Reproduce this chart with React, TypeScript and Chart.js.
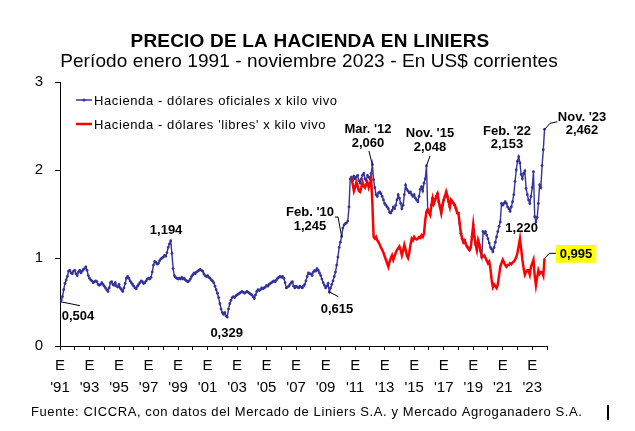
import React, { useEffect, useRef } from 'react';
import { Chart, registerables } from 'chart.js';

Chart.register(...registerables);

const FONT = '"Liberation Sans", Arial, Helvetica, sans-serif';

const titleText = 'PRECIO DE LA HACIENDA EN LINIERS';
const subtitleText = 'Período enero 1991 - noviembre 2023 - En US$ corrientes';
const footerText = 'Fuente: CICCRA, con datos del Mercado de Liniers S.A. y Mercado Agroganadero S.A.';
const seriesNames = ['Hacienda - dólares oficiales x kilo vivo', "Hacienda - dólares 'libres' x kilo vivo"];

// x axis: months since Jan 1991, axis spans 33 years (396 months)
const axisMonths = 396;
const tickMonth = 'E';
const tickYears = ["'91", "'93", "'95", "'97", "'99", "'01", "'03", "'05", "'07", "'09", "'11", "'13", "'15", "'17", "'19", "'21", "'23"];
const yTicks = [0, 1, 2, 3];

// Monthly price, official dollars per kg live weight, Jan 1991 - Nov 2023
const oficial = [
  0.504, 0.52, 0.56, 0.64, 0.71, 0.75, 0.79, 0.85, 0.86, 0.83, 0.82, 0.85, // 1991
  0.86, 0.82, 0.80, 0.84, 0.86, 0.83, 0.85, 0.87, 0.88, 0.90, 0.86, 0.80, // 1992
  0.77, 0.75, 0.74, 0.72, 0.73, 0.74, 0.73, 0.70, 0.69, 0.70, 0.72, 0.70, // 1993
  0.68, 0.66, 0.64, 0.62, 0.66, 0.72, 0.73, 0.70, 0.69, 0.72, 0.68, 0.67, // 1994
  0.70, 0.66, 0.64, 0.62, 0.66, 0.71, 0.77, 0.79, 0.77, 0.74, 0.72, 0.70, // 1995
  0.68, 0.66, 0.65, 0.68, 0.70, 0.72, 0.74, 0.73, 0.71, 0.72, 0.74, 0.76, // 1996
  0.77, 0.76, 0.78, 0.84, 0.92, 0.96, 0.95, 0.93, 0.94, 0.97, 0.99, 1.00, // 1997
  1.01, 1.03, 1.02, 1.06, 1.12, 1.16, 1.194, 1.05, 0.88, 0.80, 0.78, 0.77, // 1998
  0.76, 0.77, 0.76, 0.78, 0.76, 0.77, 0.75, 0.74, 0.73, 0.74, 0.76, 0.79, // 1999
  0.81, 0.83, 0.82, 0.84, 0.85, 0.86, 0.87, 0.86, 0.85, 0.82, 0.80, 0.79, // 2000
  0.80, 0.78, 0.77, 0.75, 0.74, 0.72, 0.68, 0.64, 0.60, 0.55, 0.48, 0.42, // 2001
  0.38, 0.36, 0.38, 0.34, 0.329, 0.42, 0.48, 0.52, 0.55, 0.56, 0.55, 0.57, // 2002
  0.58, 0.59, 0.60, 0.61, 0.62, 0.61, 0.60, 0.61, 0.62, 0.61, 0.60, 0.59, // 2003
  0.58, 0.56, 0.54, 0.58, 0.62, 0.64, 0.63, 0.64, 0.66, 0.65, 0.66, 0.67, // 2004
  0.69, 0.68, 0.70, 0.71, 0.72, 0.73, 0.74, 0.73, 0.75, 0.77, 0.78, 0.79, // 2005
  0.78, 0.79, 0.77, 0.72, 0.66, 0.67, 0.68, 0.70, 0.72, 0.73, 0.68, 0.66, // 2006
  0.68, 0.67, 0.66, 0.68, 0.67, 0.66, 0.68, 0.70, 0.74, 0.79, 0.83, 0.82, // 2007
  0.82, 0.80, 0.84, 0.86, 0.85, 0.88, 0.86, 0.83, 0.80, 0.76, 0.72, 0.69, // 2008
  0.66, 0.68, 0.71, 0.615, 0.66, 0.70, 0.74, 0.79, 0.84, 0.92, 1.01, 1.12, // 2009
  1.18, 1.245, 1.34, 1.375, 1.39, 1.40, 1.42, 1.58, 1.90, 1.92, 1.88, 1.93, // 2010
  1.90, 1.92, 1.94, 1.88, 1.85, 1.90, 1.94, 1.96, 1.90, 1.88, 1.94, 1.92, // 2011
  1.90, 1.96, 2.06, 1.89, 1.80, 1.72, 1.70, 1.74, 1.75, 1.73, 1.70, 1.66, // 2012
  1.62, 1.60, 1.58, 1.56, 1.52, 1.51, 1.54, 1.58, 1.56, 1.60, 1.66, 1.72, // 2013
  1.68, 1.62, 1.56, 1.60, 1.72, 1.83, 1.78, 1.76, 1.74, 1.75, 1.72, 1.70, // 2014
  1.72, 1.68, 1.66, 1.64, 1.70, 1.78, 1.81, 1.76, 1.85, 1.90, 2.048, 1.55, // 2015
  1.52, 1.49, 1.60, 1.68, 1.62, 1.66, 1.70, 1.73, 1.64, 1.58, 1.51, 1.60, // 2016
  1.66, 1.70, 1.75, 1.70, 1.64, 1.58, 1.66, 1.64, 1.62, 1.60, 1.56, 1.51, // 2017
  1.51, 1.39, 1.28, 1.22, 1.18, 1.20, 1.16, 1.13, 1.11, 1.09, 1.12, 1.24, // 2018
  1.375, 1.24, 1.15, 1.09, 1.20, 1.15, 1.08, 1.01, 1.30, 1.28, 1.30, 1.26, // 2019
  1.22, 1.17, 1.12, 1.10, 1.07, 1.12, 1.18, 1.24, 1.30, 1.36, 1.41, 1.62, // 2020
  1.60, 1.62, 1.64, 1.62, 1.58, 1.56, 1.53, 1.58, 1.64, 1.72, 1.87, 2.00, // 2021
  2.10, 2.153, 2.08, 1.95, 1.90, 1.96, 1.99, 1.79, 1.72, 1.66, 1.62, 1.70, // 2022
  1.80, 1.98, 1.47, 1.41, 1.46, 1.62, 1.83, 1.80, 2.05, 2.23, 2.462, // 2023
];

// Monthly price, 'free' dollars per kg live weight, Oct 2010 - Nov 2023
const libresStart = 237; // month index of Oct 2010
const libres = [
  1.90, 1.84, 1.76, // 2010
  1.80, 1.86, 1.82, 1.76, 1.75, 1.80, 1.86, 1.82, 1.80, 1.84, 1.86, 1.80, // 2011
  1.84, 1.90, 1.62, 1.24, 1.22, 1.24, 1.20, 1.18, 1.15, 1.12, 1.09, 1.06, // 2012
  1.02, 0.98, 0.94, 0.90, 0.96, 1.00, 1.03, 0.98, 1.02, 1.06, 1.09, 1.11, // 2013
  1.13, 1.09, 1.03, 1.08, 1.15, 1.10, 1.03, 1.00, 1.06, 1.15, 1.22, 1.20, // 2014
  1.24, 1.22, 1.21, 1.22, 1.24, 1.23, 1.26, 1.24, 1.28, 1.43, 1.53, 1.55, // 2015
  1.52, 1.49, 1.60, 1.68, 1.62, 1.66, 1.70, 1.73, 1.64, 1.58, 1.51, 1.60, // 2016
  1.66, 1.70, 1.75, 1.70, 1.64, 1.58, 1.66, 1.64, 1.62, 1.60, 1.56, 1.51, // 2017
  1.51, 1.39, 1.28, 1.22, 1.18, 1.20, 1.16, 1.13, 1.11, 1.09, 1.12, 1.24, // 2018
  1.375, 1.24, 1.15, 1.09, 1.20, 1.15, 1.08, 1.01, 1.02, 1.03, 1.00, 0.97, // 2019
  0.94, 0.96, 0.88, 0.75, 0.67, 0.70, 0.68, 0.66, 0.70, 0.80, 0.90, 0.94, // 2020
  0.98, 0.95, 0.92, 0.90, 0.92, 0.92, 0.94, 0.93, 0.95, 0.96, 0.98, 1.01, // 2021
  1.06, 1.14, 1.22, 1.10, 0.98, 0.88, 0.81, 0.84, 0.86, 0.86, 0.81, 0.90, // 2022
  0.94, 0.98, 0.80, 0.69, 0.78, 0.86, 0.82, 0.84, 0.84, 0.80, 0.995, // 2023
];

// Callouts: text lines, anchored series point (month index), offsets in px
type Note = {
  lines: string[];
  series: 0 | 1;
  month: number;
  dx: number;
  dy: number[];
  leader?: [number, number][];
  box?: boolean;
};
const notes: Note[] = [
  { lines: ['0,504'], series: 0, month: 0, dx: 18, dy: [18.4], leader: [[20, 4]] },
  { lines: ['1,194'], series: 0, month: 90, dx: -4.6, dy: [-6.5] },
  { lines: ['0,329'], series: 0, month: 136, dx: -0.6, dy: [19.7] },
  { lines: ["Feb. '10", '1,245'], series: 0, month: 229, dx: -31.6, dy: [-20.9, -6.4], leader: [[-3.6, -19.4], [-6.6, -19.4]] },
  { lines: ['0,615'], series: 0, month: 219, dx: 7.7, dy: [21.1], leader: [[9, 4.8]] },
  { lines: ["Mar. '12", '2,060'], series: 0, month: 254, dx: -4.4, dy: [-32, -18], leader: [[-3.4, -13.7]] },
  { lines: ["Nov. '15", '2,048'], series: 0, month: 298, dx: 3.5, dy: [-28.5, -15.1], leader: [[3.5, -9.8]] },
  { lines: ["Feb. '22", '2,153'], series: 0, month: 373, dx: -11.7, dy: [-21.5, -8.2] },
  { lines: ['1,220'], series: 0, month: 387, dx: -14.3, dy: [9.8] },
  { lines: ["Nov. '23", '2,462'], series: 0, month: 394, dx: 37.5, dy: [-8.6, 4.7], leader: [[5.5, -6], [12.8, -7.6]] },
  { lines: ['0,995'], series: 1, month: 394, dx: 31.5, dy: [-0.1], leader: [[4.8, -5.1], [12.8, -5.1]], box: true },
];

const BLUE = '#333399';
const RED = '#ff0000';

function valueOf(series: 0 | 1, month: number): number {
  return series === 0 ? oficial[month] : libres[month - libresStart];
}

const textPlugin = {
  id: 'textPlugin',
  afterDraw(chart: any) {
    const ctx: CanvasRenderingContext2D = chart.ctx;
    const xs = chart.scales.x;
    const ys = chart.scales.y;
    ctx.save();
    ctx.fillStyle = '#000';
    ctx.textBaseline = 'alphabetic';

    // Titles
    ctx.textAlign = 'center';
    (ctx as any).letterSpacing = '0.2px';
    ctx.font = `bold 19px ${FONT}`;
    ctx.fillText(titleText, 310, 46.7);
    (ctx as any).letterSpacing = '0.1px';
    ctx.font = `19px ${FONT}`;
    ctx.fillText(subtitleText, 309, 66.5);

    // Legend
    (ctx as any).letterSpacing = '0.6px';
    ctx.font = `13px ${FONT}`;
    ctx.textAlign = 'left';
    const legendRows = [
      { y: 100, color: BLUE, width: 1.5, marker: true },
      { y: 124, color: RED, width: 2.5, marker: false },
    ];
    legendRows.forEach((row, i) => {
      ctx.strokeStyle = row.color;
      ctx.lineWidth = row.width;
      ctx.beginPath();
      ctx.moveTo(76, row.y);
      ctx.lineTo(92, row.y);
      ctx.stroke();
      if (row.marker) {
        ctx.fillStyle = row.color;
        ctx.beginPath();
        ctx.arc(84, row.y, 1.6, 0, Math.PI * 2);
        ctx.fill();
      }
      ctx.fillStyle = '#000';
      ctx.fillText(seriesNames[i], 94, row.y + 4.8);
    });

    // Footer
    ctx.font = `13px ${FONT}`;
    ctx.fillText(footerText, 31, 416);
    ctx.fillRect(607, 405, 2, 15);

    // Callouts
    (ctx as any).letterSpacing = '0px';
    ctx.font = `bold 13px ${FONT}`;
    ctx.textAlign = 'center';
    notes.forEach((n) => {
      const px = xs.getPixelForValue(n.month);
      const py = ys.getPixelForValue(valueOf(n.series, n.month));
      if (n.leader) {
        ctx.strokeStyle = '#000';
        ctx.lineWidth = 1;
        ctx.beginPath();
        ctx.moveTo(px, py);
        n.leader.forEach(([lx, ly]) => ctx.lineTo(px + lx, py + ly));
        ctx.stroke();
      }
      if (n.box) {
        const w = ctx.measureText(n.lines[0]).width + 8;
        ctx.fillStyle = '#ffff00';
        ctx.fillRect(px + n.dx - w / 2, py + n.dy[0] - 13.3, w, 17.7);
      }
      ctx.fillStyle = '#000';
      n.lines.forEach((line, i) => {
        ctx.fillText(line, px + n.dx, py + n.dy[i]);
      });
    });
    ctx.restore();
  },
};

export default function App() {
  const ref = useRef<HTMLCanvasElement>(null);
  useEffect(() => {
    document.body.style.margin = '0';
    const canvas = ref.current;
    if (!canvas) return;
    const chart = new Chart(canvas, {
      type: 'line',
      data: {
        datasets: [
          {
            label: seriesNames[1],
            data: libres.map((v, i) => ({ x: libresStart + i, y: v })),
            borderColor: RED,
            backgroundColor: RED,
            borderWidth: 2.5,
            pointRadius: 0,
            tension: 0,
          },
          {
            label: seriesNames[0],
            data: oficial.map((v, i) => ({ x: i, y: v })),
            borderColor: BLUE,
            backgroundColor: BLUE,
            borderWidth: 1.4,
            pointRadius: 1.4,
            pointBorderWidth: 0,
            pointBackgroundColor: BLUE,
            tension: 0,
          },
        ],
      },
      options: {
        animation: false,
        responsive: false,
        events: [],
        layout: { padding: { left: 0, top: 82, right: 88, bottom: 0 } },
        plugins: {
          legend: { display: false },
          tooltip: { enabled: false },
          title: { display: false },
        },
        scales: {
          x: {
            type: 'linear',
            min: 0,
            max: axisMonths,
            afterFit: (s: any) => {
              s.height = 85;
            },
            ticks: {
              stepSize: 12,
              autoSkip: false,
              maxRotation: 0,
              minRotation: 0,
              padding: 5,
              color: '#000',
              font: { family: FONT, size: 15, lineHeight: 1.44 },
              callback: (v: any) => {
                const n = Number(v);
                if (n % 24 !== 0) return '';
                const i = n / 24;
                return i < tickYears.length ? [tickMonth, tickYears[i]] : '';
              },
            },
            grid: { display: true, drawOnChartArea: false, drawTicks: true, tickLength: 4, color: '#000' },
            border: { display: true, color: '#000', width: 1 },
          },
          y: {
            min: yTicks[0],
            max: yTicks[yTicks.length - 1],
            afterFit: (s: any) => {
              s.width = 60;
            },
            ticks: {
              stepSize: 1,
              padding: 12,
              color: '#000',
              font: { family: FONT, size: 15 },
            },
            grid: { display: true, drawOnChartArea: false, drawTicks: true, tickLength: 5, color: '#000' },
            border: { display: true, color: '#000', width: 1 },
          },
        },
      },
      plugins: [textPlugin],
    });
    return () => chart.destroy();
  }, []);
  return (
    <div style={{ width: 635, height: 431, background: '#fff' }}>
      <canvas ref={ref} width={635} height={431} style={{ display: 'block' }} />
    </div>
  );
}
